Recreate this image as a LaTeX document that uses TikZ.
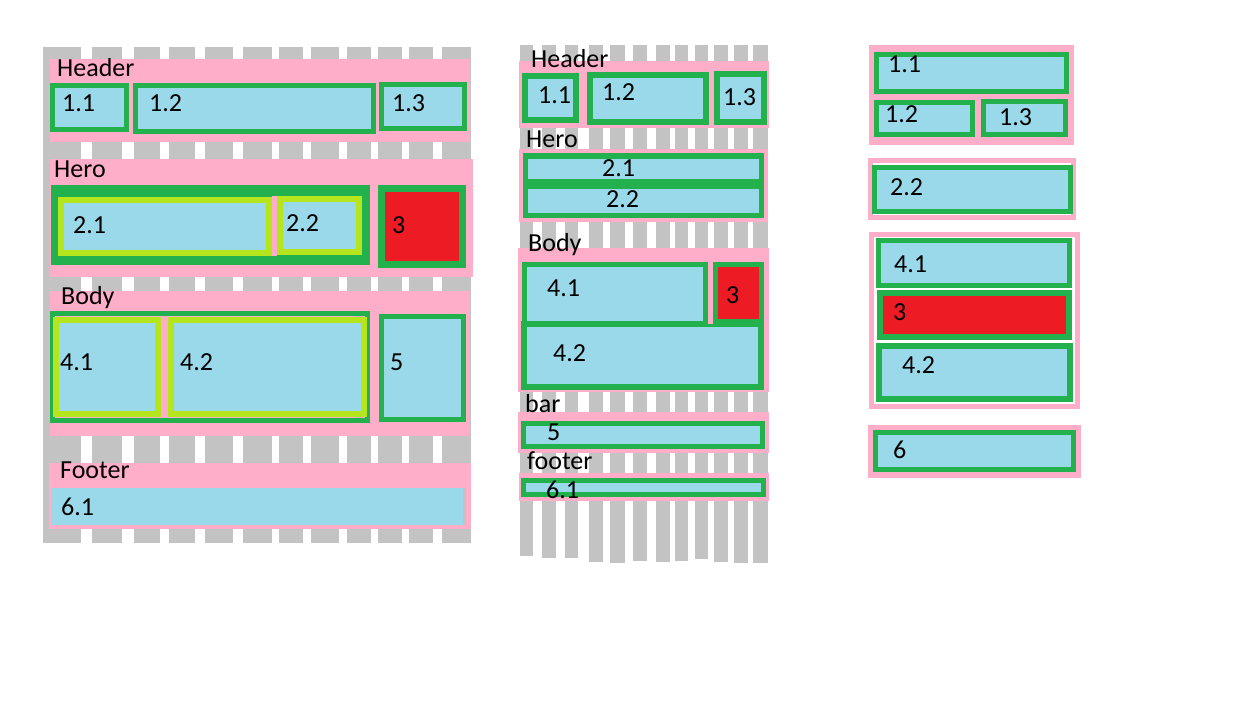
\documentclass[tikz,border=0pt]{standalone}
\usepackage{fontspec}
\setmainfont{Carlito}
\usepackage{tikz}

\definecolor{pkpink}{HTML}{FFAEC9}
\definecolor{pkblue}{HTML}{99D9EA}
\definecolor{pkgreen}{HTML}{22B14C}
\definecolor{pklime}{HTML}{B5E61D}
\definecolor{pkred}{HTML}{ED1C24}
\definecolor{pkgray}{HTML}{C3C3C3}

\tikzset{
  lbl/.style={anchor=base west, inner sep=0pt, font=\fontsize{26}{30}\selectfont},
  band/.style={fill=pkpink}
}
% outer frame colour #2, inner fill #1, corners (#3,#4) (#5,#6), frame width #7
\newcommand{\paintcell}[7][pkblue]{%
  \fill[#2] (#3,#4) rectangle (#5,#6);
  \fill[#1] ([shift={(#7,#7)}]#3,#4) rectangle ([shift={(-#7,-#7)}]#5,#6);}

\begin{document}
\begin{tikzpicture}[x=1pt,y=-1pt]
\useasboundingbox[fill=white] (0,0) rectangle (1238,708);

% left: desktop
\foreach \a/\b in {43/81,92/122,134/160,169/195,205/233,243/272,279/303,311/339,347/371,378/402,409/433,442/471}
  \fill[pkgray] (\a,47) rectangle (\b,543);
\fill[band] (50,59) rectangle (470,142);
\paintcell{pkgreen}{50}{83}{129}{132}{5}
\paintcell{pkgreen}{133}{83}{376}{134}{5}
\paintcell{pkgreen}{379}{82}{467}{131}{5}
\node[lbl] (dHeader) at (57,77) {Header};
\node[lbl] (d11) at (62,112) {1.1};
\node[lbl] (d12) at (149,112) {1.2};
\node[lbl] (d13) at (392,112) {1.3};

\fill[band] (50,159) rectangle (473,277);
\fill[pkgreen] (51,185) rectangle (370,265);
\fill[pkpink] (272,196) rectangle (277,256);
\paintcell{pklime}{58}{197}{272}{256}{6}
\paintcell{pklime}{277}{196}{362}{255}{6}
\paintcell[pkred]{pkgreen}{378}{185}{466}{268}{7}
\node[lbl] (dHero) at (54,178) {Hero};
\node[lbl] (d21) at (73,234) {2.1};
\node[lbl] (d22) at (286,232) {2.2};
\node[lbl] (d3) at (392,234) {3};

\fill[band] (50,291) rectangle (470,436);
\paintcell[pkpink]{pkgreen}{50}{311}{370}{423}{5}
\paintcell{pklime}{53}{317}{161}{417}{6}
\paintcell{pklime}{168}{317}{367}{417}{6}
\paintcell{pkgreen}{379}{314}{466}{422}{5}
\node[lbl] (dBody) at (61,305) {Body};
\node[lbl] (d41) at (60,370) {4.1};
\node[lbl] (d42) at (180,370) {4.2};
\node[lbl] (d5) at (390,370) {5};

\fill[band] (49,463) rectangle (471,529);
\fill[pkgray] (463,488) rectangle (466,525);
\fill[pkblue] (51,488) rectangle (463,525);
\node[lbl] (dFooter) at (60,478) {Footer};
\node[lbl] (d61) at (61,515) {6.1};

% middle: tablet
\foreach \a/\b/\c in {520/533/556,542/556/558,565/578/558,589/603/562,610/625/563,633/647/561,656/670/562,675/688/561,695/708/559,714/728/562,734/748/563,753/768/563}
  \fill[pkgray] (\a,45) rectangle (\b,\c);
\fill[band] (519,61) rectangle (769,128);
\paintcell{pkgreen}{522}{73}{579}{123}{6}
\paintcell{pkgreen}{587}{72}{709}{125}{6}
\paintcell{pkgreen}{714}{71}{767}{125}{6}
\node[lbl] (tHeader) at (531,68) {Header};
\node[lbl] (t11) at (538,104) {1.1};
\node[lbl] (t12) at (602,101) {1.2};
\node[lbl] (t13) at (723,106) {1.3};

\fill[band] (519,149) rectangle (768,222);
\fill[pkgreen] (523,153) rectangle (764,218);
\fill[pkblue] (528,159) rectangle (759,179);
\fill[pkblue] (528,189) rectangle (759,213);
\node[lbl] (tHero) at (526,148) {Hero};
\node[lbl] (t21) at (602,177) {2.1};
\node[lbl] (t22) at (606,208) {2.2};

\fill[band] (518,248) rectangle (769,392);
\paintcell{pkgreen}{521}{321}{764}{390}{6}
\fill[pkpink] (708,262) rectangle (713,324);
\paintcell{pkgreen}{522}{262}{708}{326}{5}
\paintcell[pkred]{pkgreen}{713}{262}{764}{324}{5}
\node[lbl] (tBody) at (528,252) {Body};
\node[lbl] (t41) at (547,297) {4.1};
\node[lbl] (t3) at (726,303) {3};
\node[lbl] (t42) at (553,361) {4.2};

\fill[band] (518,412) rectangle (769,453);
\paintcell{pkgreen}{521}{421}{765}{449}{5}
\node[lbl] (tbar) at (525,412) {bar};
\node[lbl] (t5) at (547,440) {5};

\fill[band] (519,473) rectangle (769,501);
\paintcell{pkgreen}{521}{478}{766}{497}{5}
\node[lbl] (tfooter) at (527,469) {footer};
\node[lbl] (t61) at (546,498) {6.1};

% right: phone
\fill[band] (869,45) rectangle (1074,145);
\paintcell{pkgreen}{874}{52}{1069}{94}{5}
\paintcell{pkgreen}{874}{100}{975}{137}{5}
\paintcell{pkgreen}{981}{99}{1068}{137}{5}
\node[lbl] (p11) at (888,73) {1.1};
\node[lbl] (p12) at (885,123) {1.2};
\node[lbl] (p13) at (999,126) {1.3};

\paintcell[white]{pkpink}{868}{158}{1076}{220}{5}
\paintcell{pkgreen}{872}{165}{1073}{214}{5}
\node[lbl] (p22) at (890,196) {2.2};

\paintcell[white]{pkpink}{869}{232}{1080}{409}{5}
\paintcell{pkgreen}{876}{238}{1072}{288}{5}
\paintcell[pkred]{pkgreen}{877}{290}{1072}{340}{6}
\paintcell{pkgreen}{876}{343}{1073}{402}{6}
\node[lbl] (p41) at (894,273) {4.1};
\node[lbl] (p3) at (893,320) {3};
\node[lbl] (p42) at (902,373) {4.2};

\fill[band] (868,425) rectangle (1081,478);
\paintcell{pkgreen}{873}{430}{1076}{472}{5}
\node[lbl] (p6) at (893,458) {6};
\end{tikzpicture}
\end{document}
